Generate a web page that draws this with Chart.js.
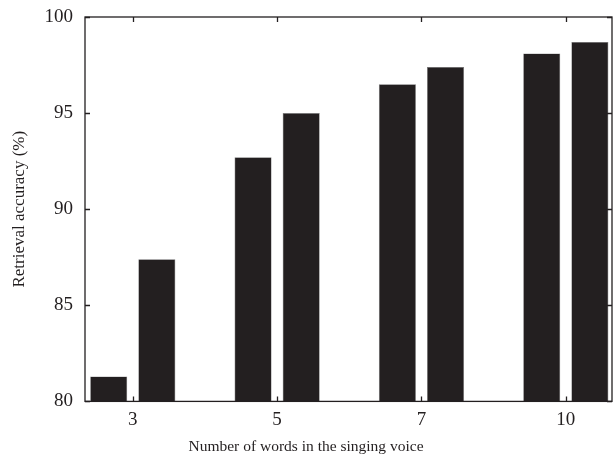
<!DOCTYPE html>
<html>
<head>
<meta charset="utf-8">
<script src="https://cdn.jsdelivr.net/npm/chart.js@4"></script>
<style>
html,body{margin:0;padding:0;background:#fff;}
#wrap{width:613px;height:461px;}
</style>
</head>
<body>
<div id="wrap"><canvas id="c" width="613" height="461"></canvas></div>
<script>
const categories = ["3", "5", "7", "10"];
const seriesA = [81.3, 92.7, 96.5, 98.1];
const seriesB = [87.4, 95.0, 97.4, 98.7];
const yTicks = [80, 85, 90, 95, 100];

const ink = '#231f20';
const font = 'Liberation Serif, "Times New Roman", serif';

const toPts = arr => arr.map((v, i) => ({x: i + 1, y: v}));

const frameTicks = {
  id: 'frameTicks',
  afterDraw(chart) {
    const {ctx, chartArea: a, scales: {x, y}} = chart;
    ctx.save();
    ctx.strokeStyle = ink;
    ctx.lineWidth = 1.3;
    ctx.strokeRect(a.left, a.top, a.right - a.left, a.bottom - a.top);
    const L = 5;
    ctx.beginPath();
    yTicks.forEach(v => {
      const py = Math.round(y.getPixelForValue(v)) + 0.5;
      ctx.moveTo(a.left, py); ctx.lineTo(a.left + L, py);
      ctx.moveTo(a.right, py); ctx.lineTo(a.right - L, py);
    });
    categories.forEach((c, i) => {
      const px = Math.round(x.getPixelForValue(i + 1)) + 0.5;
      ctx.moveTo(px, a.bottom); ctx.lineTo(px, a.bottom - L);
      ctx.moveTo(px, a.top); ctx.lineTo(px, a.top + L);
    });
    ctx.stroke();
    ctx.restore();
  }
};

new Chart(document.getElementById('c'), {
  type: 'bar',
  data: {
    datasets: [
      {data: toPts(seriesA), backgroundColor: ink, borderColor: '#777', borderWidth: 0.6,
       categoryPercentage: 0.667, barPercentage: 0.77},
      {data: toPts(seriesB), backgroundColor: ink, borderColor: '#777', borderWidth: 0.6,
       categoryPercentage: 0.667, barPercentage: 0.77}
    ]
  },
  options: {
    responsive: false,
    animation: false,
    layout: {padding: {top: 17, right: 1, left: 0, bottom: 0}},
    plugins: {
      legend: {display: false}, tooltip: {enabled: false},
      title: {display: true, position: 'bottom', text: 'Number of words in the singing voice',
              color: ink, font: {family: font, size: 15.5, weight: 'normal'},
              padding: {top: 0, bottom: 5}}
    },
    scales: {
      x: {
        type: 'linear',
        offset: false,
        min: 0.669, max: 4.32,
        grid: {display: false, drawTicks: false, offset: false},
        border: {display: false},
        afterBuildTicks: s => { s.ticks = categories.map((c, i) => ({value: i + 1})); },
        afterFit: s => { s.height = 36; s.paddingLeft = 0; s.paddingRight = 0; },
        ticks: {
          callback: (v) => categories[Math.round(v) - 1] ?? '',
          color: ink, font: {family: font, size: 19}, padding: 7, maxRotation: 0, autoSkip: false
        }
      },
      y: {
        min: 80, max: 100,
        grid: {display: false, drawTicks: false},
        border: {display: false},
        afterBuildTicks: s => { s.ticks = yTicks.map(v => ({value: v})); },
        afterFit: s => { s.width = 85; s.paddingTop = 0; s.paddingBottom = 0; },
        ticks: {color: ink, font: {family: font, size: 19}, padding: 12},
        title: {display: true, text: 'Retrieval accuracy (%)', color: ink,
                font: {family: font, size: 17}, padding: {top: 9, bottom: 4}}
      }
    }
  },
  plugins: [frameTicks]
});
</script>
</body>
</html>
